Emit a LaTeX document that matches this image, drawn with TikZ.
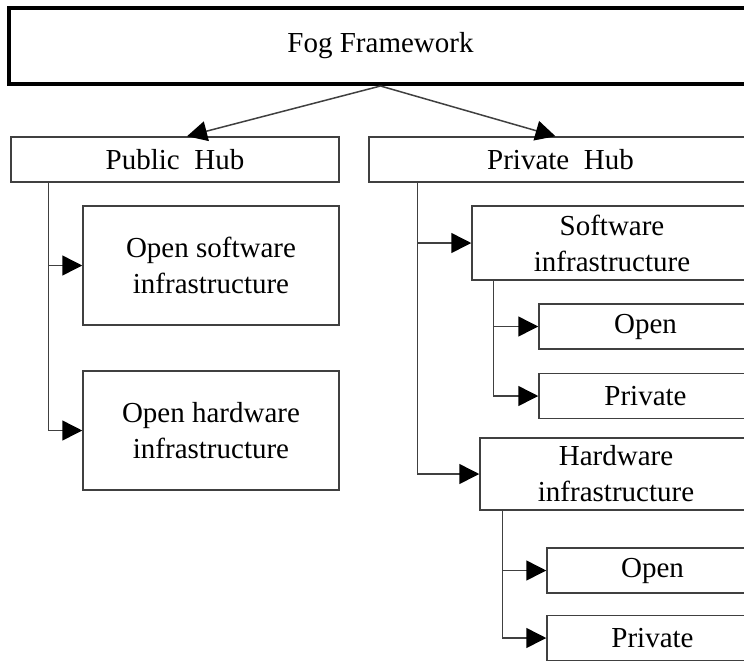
\documentclass[tikz,border=0pt]{standalone}
\usepackage{fontspec}
\setmainfont{Liberation Serif}
\usetikzlibrary{arrows.meta}
\begin{document}
\begin{tikzpicture}[x=1pt,y=-1pt,
        every node/.style={font=\fontsize{29}{36}\selectfont},
        b/.style={rectangle, draw=black!75, line width=1.5pt,
                        inner sep=0pt, align=center},
        c/.style={draw=black!75, line width=1.5pt,
                        -{Triangle[length=20pt,width=20pt,color=black]}}]
    \useasboundingbox (0,0) rectangle (744,662);
    \clip (0,0) rectangle (744,662);
    % top
    \node[b, draw=black, line width=4pt, minimum width=743pt, minimum height=76pt]
        (fog) at (380.5,46) {Fog Framework};
    \node[b, minimum width=328pt, minimum height=45pt] (pub) at (175,159.5) {Public~~Hub};
    \node[b, minimum width=383pt, minimum height=45pt] (priv) at (560.5,159.5) {Private~~Hub};
    % public side
    \node[b, minimum width=256pt, minimum height=119pt] (osw) at (211,265.5)
        {Open software\\infrastructure};
    \node[b, minimum width=256pt, minimum height=119pt] (ohw) at (211,430.5)
        {Open hardware\\infrastructure};
    % private side
    \node[b, minimum width=280pt, minimum height=74pt] (sw) at (612,243)
        {Software\\infrastructure};
    \node[b, minimum width=213pt, minimum height=45pt] (swo) at (645.5,326.5) {Open};
    \node[b, minimum width=213pt, minimum height=45pt] (swp) at (645.5,396) {Private};
    \node[b, minimum width=272pt, minimum height=72pt] (hw) at (616,474)
        {Hardware\\infrastructure};
    \node[b, minimum width=211pt, minimum height=45pt] (hwo) at (652.5,570.5) {Open};
    \node[b, minimum width=211pt, minimum height=45pt] (hwp) at (652.5,638) {Private};

    \draw[c] (fog.south) -- ([xshift=12pt]pub.north);
    \draw[c] (fog.south) -- ([xshift=-5pt]priv.north);
    \foreach \n in {osw,ohw}
        \draw[c] ([xshift=38pt]pub.south west) |- (\n.west);
    \foreach \n in {sw,hw}
        \draw[c] ([xshift=49pt]priv.south west) |- (\n.west);
    \foreach \n in {swo,swp}
        \draw[c] ([xshift=22pt]sw.south west) |- (\n.west);
    \foreach \n in {hwo,hwp}
        \draw[c] ([xshift=23pt]hw.south west) |- (\n.west);
\end{tikzpicture}
\end{document}
